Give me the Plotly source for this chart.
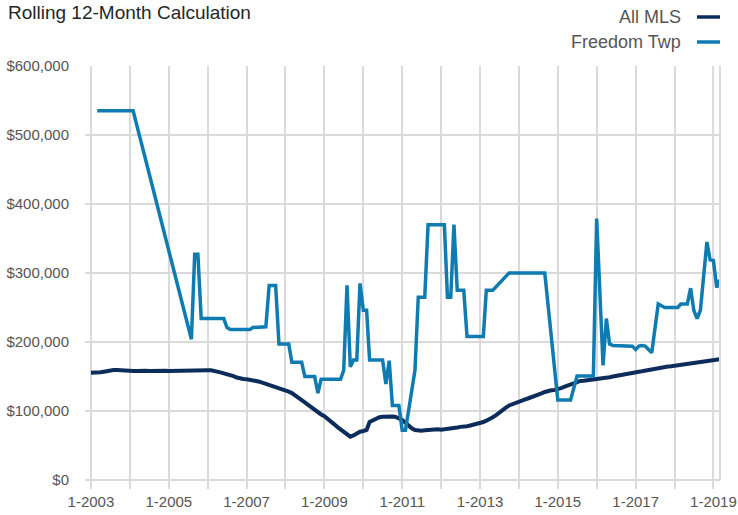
import plotly.graph_objects as go
import pandas as pd

# ---------------- data ----------------
mls_dates = pd.date_range("2003-01-01", "2019-03-01", freq="MS")
mls_values = [
    155500, 155500, 155800, 156200, 157000, 158000, 159000, 159500, 159500, 159000, 158500, 158500,
    158200, 158000, 158000, 158500, 158500, 158200, 158000, 158300, 158500, 158800, 158500, 158200,
    158000, 158200, 158500, 158500, 158500, 158500, 158700, 158800, 158800, 158500, 158700, 159000,
    159200, 159000, 158500, 157500, 156000, 154500, 153500, 152000, 150500, 148500, 147000, 146500,
    146000, 145500, 144500, 143500, 142500, 141000, 139500, 138000, 136500, 135000, 133500, 132000,
    130000, 128000, 126000, 123000, 120000, 116500, 112500, 109000, 105000, 101500, 98000, 95000,
    92500, 89000, 85000, 81000, 77000, 73000, 69000, 65500, 62800, 64500, 67500, 70000,
    71000, 72500, 84000, 86000, 89500, 91000, 91500, 92000, 92000, 92000, 91500, 90000,
    87000, 83000, 79000, 75000, 72500, 71500, 71500, 72000, 72500, 73000, 73500, 73500,
    73000, 73500, 73500, 74000, 75000, 76000, 77000, 77000, 78000, 79000, 80000, 81000,
    82500, 84000, 86000, 88000, 91000, 94000, 98000, 102000, 105000, 108000, 110000, 112500,
    114000, 115500, 117000, 118500, 120000, 121000, 123000, 125500, 127500, 129500, 130000, 130500,
    131400, 133000, 135000, 137000, 138600, 140500, 142500, 143500, 144000, 144500, 145000, 145500,
    146000, 147000, 147500, 148500, 149000, 150000, 151000, 151500, 152500, 153500, 154500, 155000,
    156000, 157000, 157500, 158500, 159500, 161000, 162000, 163000, 163500, 164000, 164500, 165000,
    165700, 166000, 166500, 167500, 168500, 169500, 170500, 171000, 171500, 172000, 172500, 173000,
    174000, 174500, 175000,
]

twp_dates = [
    "2003-03-01", "2004-02-01", "2005-08-01", "2005-09-01", "2005-10-01", "2005-11-01",
    "2006-06-01", "2006-07-01", "2006-08-01", "2007-02-01", "2007-03-01", "2007-07-01",
    "2007-08-01", "2007-10-01", "2007-11-01", "2008-02-01", "2008-03-01", "2008-06-01",
    "2008-07-01", "2008-10-01", "2008-11-01", "2008-12-01", "2009-06-01", "2009-07-01",
    "2009-08-01", "2009-09-01", "2009-10-01", "2009-11-01", "2009-12-01", "2010-01-01",
    "2010-02-01", "2010-03-01", "2010-07-01", "2010-08-01", "2010-09-01", "2010-10-01",
    "2010-12-01", "2011-01-01", "2011-02-01", "2011-05-01", "2011-06-01", "2011-08-01",
    "2011-09-01", "2012-02-01", "2012-03-01", "2012-04-01", "2012-05-01", "2012-06-01",
    "2012-08-01", "2012-09-01", "2013-02-01", "2013-03-01", "2013-05-01", "2013-10-01",
    "2014-09-01", "2015-01-01", "2015-05-01", "2015-07-01", "2015-12-01", "2016-01-01",
    "2016-03-01", "2016-04-01", "2016-05-01", "2016-06-01", "2016-12-01", "2017-01-01",
    "2017-02-01", "2017-03-01", "2017-04-01", "2017-05-01", "2017-06-01", "2017-08-01",
    "2017-09-01", "2017-10-01", "2018-02-01", "2018-03-01", "2018-05-01", "2018-06-01",
    "2018-07-01", "2018-08-01", "2018-09-01", "2018-11-01", "2018-12-01", "2019-01-01",
    "2019-02-01", "2019-03-01",
]
twp_values = [
    535000, 535000, 204000, 327000, 327000, 234000,
    234000, 221000, 218000, 218000, 221000, 222000,
    282000, 282000, 197000, 197000, 170500, 170500,
    150000, 150000, 126000, 146000, 146000, 159000,
    282000, 164000, 174000, 174000, 285000, 246000,
    246000, 174000, 174000, 139000, 173000, 108000,
    108000, 72000, 72000, 159000, 265000, 265000,
    370000, 370000, 265000, 265000, 370000, 275000,
    275000, 208000, 208000, 275000, 275000, 300000,
    300000, 116000, 116000, 150700, 150700, 379000,
    166000, 234000, 197000, 195000, 194000, 189000,
    194000, 195000, 194000, 190000, 184500, 255000,
    252000, 250000, 250000, 255000, 255000, 278000,
    246000, 234000, 246000, 345000, 319000, 318000,
    279000, 290000,
]

series_names = ["All MLS", "Freedom Twp"]
series_colors = ["#0c2d5c", "#0f7bb0"]

year_ticks = [f"{y}-01-01" for y in range(2003, 2020)]
year_labels = [f"1-{y}" if (y - 2003) % 2 == 0 else "" for y in range(2003, 2020)]
y_ticks = [0, 100000, 200000, 300000, 400000, 500000, 600000]
y_labels = ["$0", "$100,000", "$200,000", "$300,000", "$400,000", "$500,000", "$600,000"]

FONT = "Liberation Sans, Arial, sans-serif"
GRID = "#dadada"

fig = go.Figure()
fig.add_trace(go.Scatter(x=mls_dates, y=mls_values, mode="lines", name=series_names[0],
                         line=dict(color=series_colors[0], width=4), showlegend=False))
fig.add_trace(go.Scatter(x=twp_dates, y=twp_values, mode="lines", name=series_names[1],
                         line=dict(color=series_colors[1], width=3.5), showlegend=False))

fig.update_layout(
    width=738, height=515, autosize=False,
    margin=dict(l=85, r=18, t=66, b=35, autoexpand=False),
    paper_bgcolor="white", plot_bgcolor="white",
    font=dict(family=FONT, color="#555555", size=15),
    title=dict(text="Rolling 12-Month Calculation", x=8 / 738, xanchor="left",
               y=1 - 12 / 515, yanchor="middle",
               font=dict(family=FONT, size=19, color="#262626")),
)
fig.update_xaxes(
    type="date", range=["2002-11-06", "2019-03-04"], automargin=False,
    tickvals=year_ticks, ticktext=year_labels,
    showgrid=True, gridcolor=GRID, gridwidth=2,
    ticks="outside", ticklen=8, tickcolor=GRID, tickwidth=2,
    tickfont=dict(size=15, color="#555555"),
    showline=False, zeroline=False,
)
fig.update_yaxes(
    range=[0, 600000], tickvals=y_ticks, ticktext=y_labels, automargin=False,
    showgrid=True, gridcolor=GRID, gridwidth=2,
    zeroline=True, zerolinecolor=GRID, zerolinewidth=2,
    ticks="", ticklabelstandoff=15,
    tickfont=dict(size=15, color="#555555"),
)

# right border line of plot area
fig.add_shape(type="line", xref="paper", yref="paper", x0=1, x1=1, y0=0, y1=1,
              line=dict(color=GRID, width=2))

# legend (text left of sample line, right-aligned)
leg_y = [(480 - 17) / 414, (480 - 42) / 414]
for name, color, yy in zip(series_names, series_colors, leg_y):
    fig.add_annotation(xref="paper", yref="paper", x=(683 - 85) / 635, y=yy,
                       text=name, showarrow=False, xanchor="right", yanchor="middle",
                       font=dict(family=FONT, size=18, color="#555555"))
    fig.add_shape(type="line", xref="paper", yref="paper",
                  x0=(697 - 85) / 635, x1=1.0, y0=yy, y1=yy,
                  line=dict(color=color, width=3.5))

fig.write_html("out.html", config={"displayModeBar": False},
               post_script="document.body.style.margin='0';document.body.style.overflow='hidden';")
